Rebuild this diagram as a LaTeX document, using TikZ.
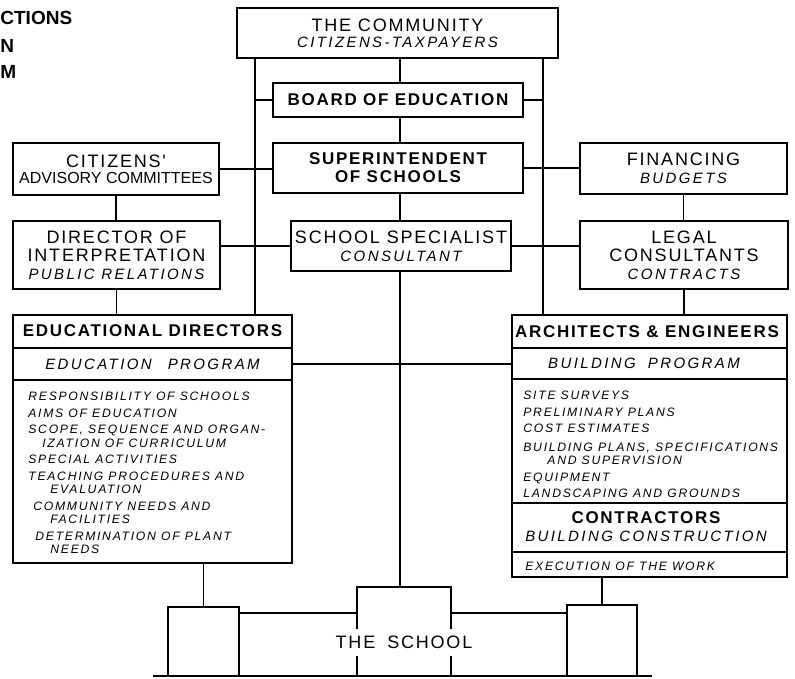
\documentclass[tikz,border=0pt]{standalone}
\usepackage{fontspec}
\setmainfont{Liberation Sans}
\newfontfamily\hdfont[LetterSpace=10]{Liberation Sans}
\newfontfamily\itfont[LetterSpace=16]{Liberation Sans}
\newfontfamily\lsfont[LetterSpace=14]{Liberation Sans}
\usetikzlibrary{positioning}

\newcommand{\subl}[1]{{\itfont\mdseries\itshape\fontsize{7.5}{9}\selectfont #1}}

\tikzset{
  ln/.style={line width=0.9pt},
  box/.style={rectangle, draw, line width=0.9pt, inner sep=0pt, align=center,
    font=\hdfont\fontsize{9}{9}\selectfont},
  bbox/.style={box, font=\hdfont\bfseries\fontsize{8.5}{9}\selectfont},
  sz/.style 2 args={minimum width=#1*0.5pt, minimum height=#2*0.5pt},
  hdr/.style={font=\hdfont\bfseries\fontsize{8.5}{9}\selectfont, inner sep=0pt, align=center},
  prog/.style={font=\itfont\itshape\fontsize{7.5}{9}\selectfont, inner sep=0pt},
  lst/.style={font=\lsfont\itshape\fontsize{6.1}{6.75}\selectfont, align=left,
    anchor=north west, inner sep=0pt},
  pg/.style={font=\bfseries\fontsize{9.5}{9}\selectfont, anchor=west, inner sep=0pt}
}

\begin{document}
\begin{tikzpicture}[x=0.5pt, y=-0.5pt]
    \useasboundingbox (0,0) rectangle (795,678);

    % Page text cut at the edge
    \node[pg] (pg1) at (0,18) {CTIONS};
    \node[pg] (pg2) at (0,46) {N};
    \node[pg] (pg3) at (0,72) {M};

    % Rails
    \coordinate (lrail) at (255,0);
    \coordinate (rrail) at (543,0);
    \coordinate (mid) at (400,0);

    % Top of the chart
    \node[box, sz={321}{50}, font=\hdfont\fontsize{9}{8}\selectfont] (comm) at (397.5,33)
      {THE COMMUNITY\\\subl{CITIZENS-TAXPAYERS}};
    \node[bbox, sz={250}{34}] (board) at (398,100) {BOARD OF EDUCATION};
    \node[bbox, sz={250}{50}] (supt) at (398,168) {SUPERINTENDENT\\OF SCHOOLS};

    % Left and right columns
    \node[box, sz={206}{52}, font=\hdfont\fontsize{9}{8}\selectfont] (citz) at (116,169)
      {CITIZENS'\\{\normalfont\fontsize{8}{8}\selectfont ADVISORY COMMITTEES}};
    \node[box, sz={207}{51}] (fin) at (683.5,168.5) {FINANCING\\\subl{BUDGETS}};
    \node[box, sz={207}{68}] (dir) at (116.5,255)
      {DIRECTOR OF\\INTERPRETATION\\\subl{PUBLIC RELATIONS}};
    \node[box, sz={220}{50}] (spec) at (401,246) {SCHOOL SPECIALIST\\\subl{CONSULTANT}};
    \node[box, sz={208}{68}] (legal) at (684,255)
      {LEGAL\\CONSULTANTS\\\subl{CONTRACTS}};

    % Educational directors
    \node[box, sz={279}{248}] (edir) at (152.5,439) {};
    \coordinate (e1) at (0,348);
    \coordinate (e2) at (0,380);
    \draw[ln] (edir.west |- e1) -- (edir.east |- e1);
    \draw[ln] (edir.west |- e2) -- (edir.east |- e2);
    \node[hdr] (edhd) at (152.5,331) {EDUCATIONAL DIRECTORS};
    \node[prog] (edprog) at (152.5,364) {EDUCATION\hspace{8pt}PROGRAM};
    \node[lst] (edlst) at (28,392) {RESPONSIBILITY OF SCHOOLS\\[1.5pt]
      AIMS OF EDUCATION\\[1.5pt]
      SCOPE, SEQUENCE AND ORGAN-\\
      \hspace*{7pt}IZATION OF CURRICULUM\\[1.5pt]
      SPECIAL ACTIVITIES\\[1.5pt]
      TEACHING PROCEDURES AND\\
      \hspace*{11pt}EVALUATION\\[1.5pt]
      \hspace*{2.5pt}COMMUNITY NEEDS AND\\
      \hspace*{11pt}FACILITIES\\[1.5pt]
      \hspace*{3.5pt}DETERMINATION OF PLANT\\
      \hspace*{11pt}NEEDS};

    % Architects and contractors
    \node[box, sz={275}{262}] (arch) at (649.5,446) {};
    \coordinate (a1) at (0,348);
    \coordinate (a2) at (0,379);
    \coordinate (a3) at (0,503);
    \coordinate (a4) at (0,552);
    \foreach \c in {a1,a2,a3,a4}
      \draw[ln] (arch.west |- \c) -- (arch.east |- \c);
    \node[hdr] (arhd) at (647,332) {ARCHITECTS \& ENGINEERS};
    \node[prog] (arprog) at (644,363) {BUILDING\hspace{6pt}PROGRAM};
    \node[lst] (arlst) at (523,391) {SITE SURVEYS\\[1.5pt]
      PRELIMINARY PLANS\\[1.5pt]
      COST ESTIMATES\\[2.5pt]
      BUILDING PLANS, SPECIFICATIONS\\
      \hspace*{12pt}AND SUPERVISION\\[1.5pt]
      EQUIPMENT\\[1.5pt]
      LANDSCAPING AND GROUNDS};
    \node[hdr] (contr) at (646,527) {CONTRACTORS\\\subl{BUILDING CONSTRUCTION}};
    \node[lst, anchor=west] (exec) at (525,566) {EXECUTION OF THE WORK};

    % The school
    \node[box, sz={71}{69}] (sl) at (203.5,641.5) {};
    \node[box, sz={94}{89}] (sc) at (404,631.5) {};
    \node[box, sz={70}{71}] (sr) at (602,640.5) {};
    \node[fill=white, inner xsep=1pt, inner ysep=0pt, minimum height=13.5pt,
      font=\hdfont\fontsize{9}{9}\selectfont] (schl) at (404,642) {THE\hspace{6pt}SCHOOL};
    \coordinate (g1) at (153,676);
    \coordinate (g2) at (652,676);
    \draw[line width=1.4pt] (g1) -- (g2);

    % Lines of the chart
    \draw[ln] (comm.south -| lrail) -- (edir.north -| lrail);
    \draw[ln] (comm.south -| rrail) -- (arch.north -| rrail);
    \draw[ln] (comm.south -| mid) -- (board.north -| mid);
    \draw[ln] (board.south -| mid) -- (supt.north -| mid);
    \draw[ln] (supt.south -| mid) -- (spec.north -| mid);
    \draw[ln] (spec.south -| mid) -- (sc.north -| mid);
    \draw[ln] (board.west) -- (board.west -| lrail);
    \draw[ln] (board.east) -- (board.east -| rrail);
    \draw[ln] (citz.east) -- (citz.east -| supt.west);
    \draw[ln] (supt.east) -- (supt.east -| fin.west);
    \draw[ln] (citz.south) -- (citz.south |- dir.north);
    \draw[ln] (fin.south) -- (fin.south |- legal.north);
    \draw[ln] (spec.west) -- (spec.west -| dir.east);
    \draw[ln] (spec.east) -- (spec.east -| legal.west);
    \draw[ln] (dir.south) -- (dir.south |- edir.north);
    \draw[ln] (legal.south) -- (legal.south |- arch.north);
    \draw[ln] (edprog -| edir.east) -- (edprog -| arch.west);
    \draw[ln] (sl.north) -- (sl.north |- edir.south);
    \draw[ln] (sr.north) -- (sr.north |- arch.south);
    \coordinate (jn) at (0,613);
    \draw[ln] (sl.east |- jn) -- (sc.west |- jn);
    \draw[ln] (sc.east |- jn) -- (sr.west |- jn);

\end{tikzpicture}
\end{document}
